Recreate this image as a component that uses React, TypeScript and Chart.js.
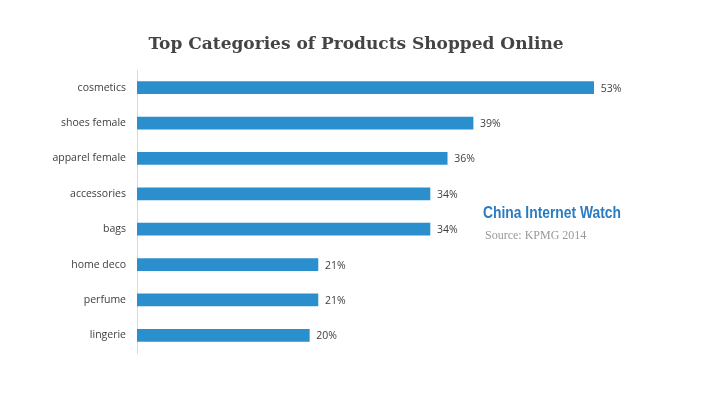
import React, { useEffect, useRef } from "react";
import { Chart, registerables } from "chart.js";

Chart.register(...registerables);

const categories = ["cosmetics", "shoes female", "apparel female", "accessories", "bags", "home deco", "perfume", "lingerie"];
const shares = [53, 39, 36, 34, 34, 21, 21, 20];
const titleText = "Top Categories of Products Shopped Online";
const brandText = "China Internet Watch";
const sourceText = "Source: KPMG 2014";

const extras = {
  id: "extras",
  afterDatasetsDraw(chart: any) {
    const ctx = chart.ctx;
    const meta = chart.getDatasetMeta(0);
    ctx.save();
    ctx.font = "10.5px 'Open Sans', 'DejaVu Sans', sans-serif";
    ctx.fillStyle = "#404040";
    ctx.textAlign = "left";
    ctx.textBaseline = "middle";
    meta.data.forEach((bar: any, i: number) => {
      ctx.fillText(shares[i] + "%", bar.x + 7, bar.y + 1);
    });
    ctx.font = "bold 17px 'DejaVu Serif', 'Liberation Serif', serif";
    ctx.fillStyle = "#444444";
    ctx.textAlign = "center";
    ctx.fillText(titleText, 356, 45);
    ctx.textAlign = "left";
    ctx.font = "bold 16px 'Liberation Sans', sans-serif";
    ctx.fillStyle = "#2a7cc2";
    const w = ctx.measureText(brandText).width;
    ctx.save();
    ctx.translate(483, 214);
    ctx.scale(138 / w, 1);
    ctx.fillText(brandText, 0, 0);
    ctx.restore();
    ctx.font = "12px 'Liberation Serif', serif";
    ctx.fillStyle = "#999999";
    ctx.fillText(sourceText, 485, 236);
    ctx.restore();
  },
};

export default function App() {
  const ref = useRef<HTMLCanvasElement>(null);
  useEffect(() => {
    document.body.style.margin = "0";
    const chart = new Chart(ref.current!, {
      type: "bar",
      data: {
        labels: categories,
        datasets: [
          {
            data: shares,
            backgroundColor: "#2b8fcd",
            borderWidth: 0,
            barThickness: 12,
          },
        ],
      },
      options: {
        indexAxis: "y",
        animation: false,
        responsive: false,
        layout: { padding: { top: 70, bottom: 45, right: 62, left: 0 } },
        plugins: { legend: { display: false }, tooltip: { enabled: false }, title: { display: false } },
        scales: {
          x: { display: false, min: 0, max: 60 },
          y: {
            afterFit: (s: any) => {
              s.width = 137;
            },
            grid: { display: false, drawTicks: false },
            border: { display: true, color: "#d9d9d9", width: 1 },
            ticks: {
              padding: 11,
              color: "#404040",
              font: { family: "'Open Sans', 'DejaVu Sans', sans-serif", size: 10.5 },
            },
          },
        },
      },
      plugins: [extras],
    });
    return () => chart.destroy();
  }, []);
  return <canvas ref={ref} width={716} height={398} style={{ display: "block" }} />;
}
